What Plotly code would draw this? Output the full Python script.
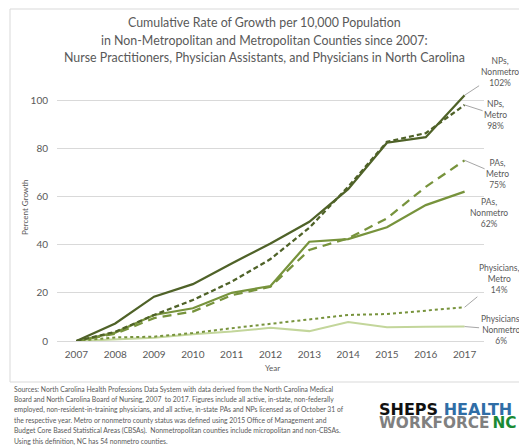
import plotly.graph_objects as go

# Cumulative growth per 10,000 population since 2007 (percent)
years = ["2007", "2008", "2009", "2010", "2011", "2012",
         "2013", "2014", "2015", "2016", "2017"]
nps_nonmetro = [0, 7.3, 18.4, 23.6, 32.2, 40.5, 49.5, 63.0, 82.3, 84.6, 102]
nps_metro = [0, 3.8, 10.8, 17.0, 24.6, 34.0, 47.0, 64.0, 82.7, 86.3, 98]
pas_nonmetro = [0, 3.5, 10.8, 13.6, 20.0, 22.8, 41.2, 42.3, 47.2, 56.4, 62]
pas_metro = [0, 3.0, 9.5, 12.2, 19.0, 22.5, 37.8, 42.6, 50.9, 64.0, 75]
phys_metro = [0, 1.5, 1.8, 3.3, 5.3, 7.2, 9.0, 10.8, 11.2, 12.6, 14]
phys_nonmetro = [0, 0.8, 1.3, 2.8, 3.9, 5.5, 4.1, 7.9, 5.7, 5.9, 6]

series_names = ["Physicians, Nonmetro", "Physicians, Metro", "PAs, Metro",
                "PAs, Nonmetro", "NPs, Metro", "NPs, Nonmetro"]
series_values = [phys_nonmetro, phys_metro, pas_metro,
                 pas_nonmetro, nps_metro, nps_nonmetro]
series_styles = [
    dict(color="#C3D69B", width=2, dash="solid"),
    dict(color="#77933C", width=2, dash="dot"),
    dict(color="#77933C", width=2.25, dash="9px,6px"),
    dict(color="#77933C", width=2.25, dash="solid"),
    dict(color="#4F6228", width=2.25, dash="5px,3px"),
    dict(color="#4F6228", width=2.25, dash="solid"),
]
# end-label placement (pixel offsets of label centre from last point)
label_offsets = {
    "NPs, Nonmetro": (35, -23),
    "NPs, Metro": (31, 10),
    "PAs, Metro": (33, 14),
    "PAs, Nonmetro": (24, 21),
    "Physicians, Metro": (34, -28),
    "Physicians, Nonmetro": (36, 3),
}

W, H = 519, 447
L, R, T, B = 57, 35, 76, 106
pw, ph = W - L - R, H - T - B


def px_x(x):
    return (x - L) / pw


def px_y(y):
    return (T + ph - y) / ph


fig = go.Figure()
for name, vals, style in zip(series_names, series_values, series_styles):
    fig.add_trace(go.Scatter(x=years, y=vals, mode="lines", name=name,
                             line=style, showlegend=False, hoverinfo="x+y+name"))

gray = "#595959"
base_font = "Lato, 'Open Sans', sans-serif"

annotations = []
for name, vals in zip(series_names, series_values):
    ax, ay = label_offsets[name]
    first, second = name.split(", ")
    annotations.append(dict(
        x=len(vals) - 1, y=vals[-1], xref="x", yref="y",
        text=f"{first},<br>{second}<br>{vals[-1]:.0f}%",
        showarrow=True, arrowhead=0, arrowwidth=1, arrowcolor="#A6A6A6",
        ax=ax, ay=ay,
        font=dict(family=base_font, size=8.5, color=gray), align="center"))

# title, one annotation per line
title_lines = [
    "Cumulative Rate of Growth per 10,000 Population",
    "in Non-Metropolitan and Metropolitan Counties since 2007:",
    "Nurse Practitioners, Physician Assistants, and Physicians in North Carolina",
]
for i, line in enumerate(title_lines):
    annotations.append(dict(x=px_x(264), y=px_y(22.5 + i * 17.5), xref="paper", yref="paper",
                            text=line, showarrow=False, xanchor="center", yanchor="middle",
                            font=dict(family=base_font, size=12.4, color=gray)))

# axis titles
annotations.append(dict(x=px_x(25), y=px_y(208), xref="paper", yref="paper",
                        text="Percent Growth", textangle=-90, showarrow=False,
                        xanchor="center", yanchor="middle",
                        font=dict(family=base_font, size=8, color=gray)))
annotations.append(dict(x=px_x(272), y=px_y(368), xref="paper", yref="paper",
                        text="Year", showarrow=False, xanchor="center", yanchor="middle",
                        font=dict(family=base_font, size=8, color=gray)))

# source note
notes = [
    "Sources: North Carolina Health Professions Data System with data derived from the North Carolina Medical",
    "Board and North Carolina Board of Nursing, 2007  to 2017. Figures include all active, in-state, non-federally",
    "employed, non-resident-in-training physicians, and all active, in-state PAs and NPs licensed as of October 31 of",
    "the respective year. Metro or nonmetro county status was defined using 2015 Office of Management and",
    "Budget Core Based Statistical Areas (CBSAs).  Nonmetropolitan counties include micropolitan and non-CBSAs.",
    "Using this definition, NC has 54 nonmetro counties.",
]
for i, line in enumerate(notes):
    annotations.append(dict(x=px_x(12), y=px_y(389 + i * 10.4), xref="paper", yref="paper",
                            text=line, showarrow=False, xanchor="left", yanchor="middle",
                            font=dict(family=base_font, size=6.8, color=gray)))

# logo
logo_font = "'DejaVu Sans', 'Liberation Sans', sans-serif"
annotations.append(dict(x=px_x(377), y=px_y(409), xref="paper", yref="paper",
                        text="<b><span style='color:#111111'>SHEPS</span> "
                             "<span style='color:#2F6DA6'>HEALTH</span></b>",
                        showarrow=False, xanchor="left", yanchor="middle",
                        font=dict(family=logo_font, size=16)))
annotations.append(dict(x=px_x(377), y=px_y(423), xref="paper", yref="paper",
                        text="<b><span style='color:#808080'>WORKFORCE</span>\u2009"
                             "<span style='color:#1A8A34'>NC</span></b>",
                        showarrow=False, xanchor="left", yanchor="middle",
                        font=dict(family=logo_font, size=15.3)))

fig.update_layout(
    width=W, height=H,
    margin=dict(l=L, r=R, t=T, b=B, pad=0),
    paper_bgcolor="white", plot_bgcolor="white",
    xaxis=dict(type="category", range=[-0.5, len(years) - 0.5],
               showgrid=False, showline=False, zeroline=False, ticks="",
               tickfont=dict(family=base_font, size=10, color=gray),
               ticklabelstandoff=6),
    yaxis=dict(range=[0, 110], dtick=20, tick0=0,
               showgrid=True, gridcolor="#D9D9D9", gridwidth=1,
               zeroline=True, zerolinecolor="#D9D9D9", zerolinewidth=1,
               showline=False, ticks="",
               tickfont=dict(family=base_font, size=10, color=gray),
               ticklabelstandoff=8),
    annotations=annotations,
    shapes=[dict(type="rect", xref="paper", yref="paper",
                 x0=px_x(10), x1=px_x(530), y0=px_y(382), y1=px_y(9),
                 line=dict(color="#D9D9D9", width=1), layer="below")],
)

fig.write_html("out.html")
